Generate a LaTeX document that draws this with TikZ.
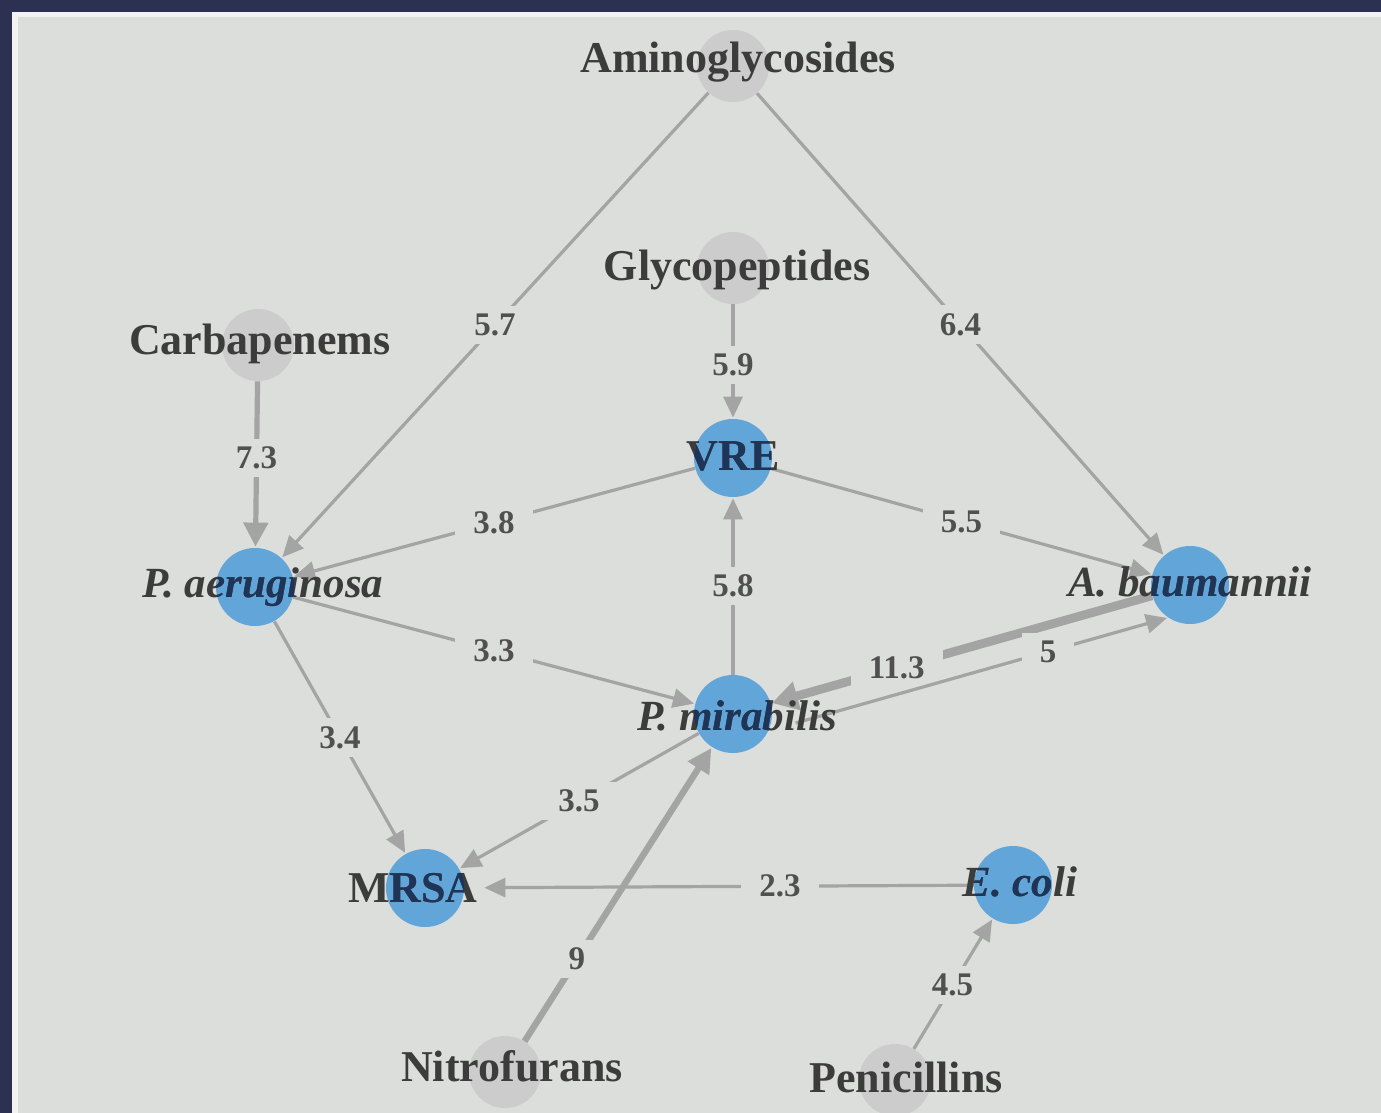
\documentclass[tikz,border=0pt]{standalone}
\usepackage{fontspec}
\setmainfont{Liberation Serif}
\usetikzlibrary{arrows.meta}
\definecolor{bg}{HTML}{DCDEDB}
\definecolor{navy}{HTML}{2C3152}
\definecolor{edgec}{HTML}{A3A4A3}
\definecolor{blu}{HTML}{62A5D8}
\definecolor{gry}{HTML}{CBCCCB}
\definecolor{txt}{HTML}{3C3C3C}
\definecolor{inblue}{HTML}{1E3558}
\definecolor{numc}{HTML}{505050}
\begin{document}
\begin{tikzpicture}[x=0.5pt,y=-0.5pt,
  bact/.style={circle,fill=blu,minimum size=39pt,inner sep=0pt},
  drug/.style={circle,fill=gry,minimum size=36pt,inner sep=0pt},
  lab/.style={font=\fontsize{22}{24}\selectfont\bfseries,text=txt,inner sep=0pt},
  slab/.style={font=\fontsize{21.5}{24}\selectfont\bfseries\itshape,text=txt,inner sep=0pt},
  num/.style={font=\fontsize{16.5}{18}\selectfont\bfseries,text=numc,fill=bg,inner xsep=9pt,inner ysep=4pt},
  e/.style={draw=edgec,line width=1.6pt,-{Triangle[length=10.5pt,width=9.5pt]},shorten >=0.5pt},
  w7/.style={line width=2.6pt,-{Triangle[length=12pt,width=12pt]}},
  w9/.style={line width=3.2pt,-{Triangle[length=12pt,width=12pt]}},
  w11/.style={line width=4.4pt,-{Triangle[length=13pt,width=14pt]}},
]
\useasboundingbox (0,0) rectangle (1381,1113);
\fill[bg] (0,0) rectangle (1381,1113);
\fill[white!60!bg] (12,12) rectangle (18,1113);
\fill[white!60!bg] (12,12) rectangle (1381,17);
\fill[navy] (0,0) rectangle (1381,12);
\fill[navy] (0,0) rectangle (12,1113);

% circles
\node[drug] (amg) at (733,66) {};
\node[drug] (gly) at (733,268) {};
\node[drug] (car) at (258,345) {};
\node[drug] (nit) at (505,1072) {};
\node[drug] (pen) at (895,1080) {};
\node[bact] (vre) at (733,458) {};
\node[bact] (pa) at (255,587) {};
\node[bact] (ab) at (1190,585) {};
\node[bact] (pm) at (733,714) {};
\node[bact] (mrsa) at (425,888) {};
\node[bact] (ec) at (1013,885) {};

% edges
\draw[e] (amg) -- node[num]{5.7} (pa);
\draw[e] (amg) -- node[num]{6.4} (ab);
\draw[e] (gly) -- node[num,pos=0.53]{5.9} (vre);
\draw[e,w7] (car) -- node[num,pos=0.46]{7.3} (pa);
\draw[e] (vre) -- node[num]{3.8} (pa);
\draw[e] (vre) -- node[num]{5.5} (ab);
\draw[e] (pm) -- node[num]{5.8} (vre);
\draw[e] (pa) -- node[num]{3.3} (pm);
\draw[e] (pa) -- node[num]{3.4} (mrsa);
\draw[e] (pm) -- node[num]{3.5} (mrsa);
\draw[e,shorten >=10pt] (ec) -- node[num,pos=0.38]{2.3} (mrsa);
\draw[e,w9] (nit) -- node[num,pos=0.28]{9} (pm);
\draw[e] (pen) -- node[num,pos=0.49]{4.5} (ec);
\draw[e,w11] (ab) -- node[num,pos=0.67]{11.3} (pm);
\draw[e,shorten <=14pt] (pm.-25) -- node[num,pos=0.7]{5} (ab.236);

% drug labels
\node[lab] (amgL) at (738,62) {Aminoglycosides};
\node[lab] (glyL) at (737,270) {Glycopeptides};
\node[lab] (carL) at (260,344) {Carbapenems};
\node[lab] (nitL) at (512,1066) {Nitrofurans};
\node[lab] (penL) at (906,1077) {Penicillins};

% bacteria labels
\node[lab] (vreL) at (733,456) {VRE};
\node[slab] (paL) at (263,587) {P. aeruginosa};
\node[slab] (abL) at (1190,582) {A. baumannii};
\node[slab] (pmL) at (737,716) {P. mirabilis};
\node[lab] (mrsaL) at (413,888) {MRSA};
\node[slab] (ecL) at (1020,882) {E. coli};
\begin{scope}
\clip (vre) circle[radius=19.5pt];
\node[lab,text=inblue] (vreB) at (733,456) {VRE};
\end{scope}
\begin{scope}
\clip (pa) circle[radius=19.5pt];
\node[slab,text=inblue] (paB) at (263,587) {P. aeruginosa};
\end{scope}
\begin{scope}
\clip (ab) circle[radius=19.5pt];
\node[slab,text=inblue] (abB) at (1190,582) {A. baumannii};
\end{scope}
\begin{scope}
\clip (pm) circle[radius=19.5pt];
\node[slab,text=inblue] (pmB) at (737,716) {P. mirabilis};
\end{scope}
\begin{scope}
\clip (mrsa) circle[radius=19.5pt];
\node[lab,text=inblue] (mrsaB) at (413,888) {MRSA};
\end{scope}
\begin{scope}
\clip (ec) circle[radius=19.5pt];
\node[slab,text=inblue] (ecB) at (1020,882) {E. coli};
\end{scope}
\end{tikzpicture}
\end{document}
